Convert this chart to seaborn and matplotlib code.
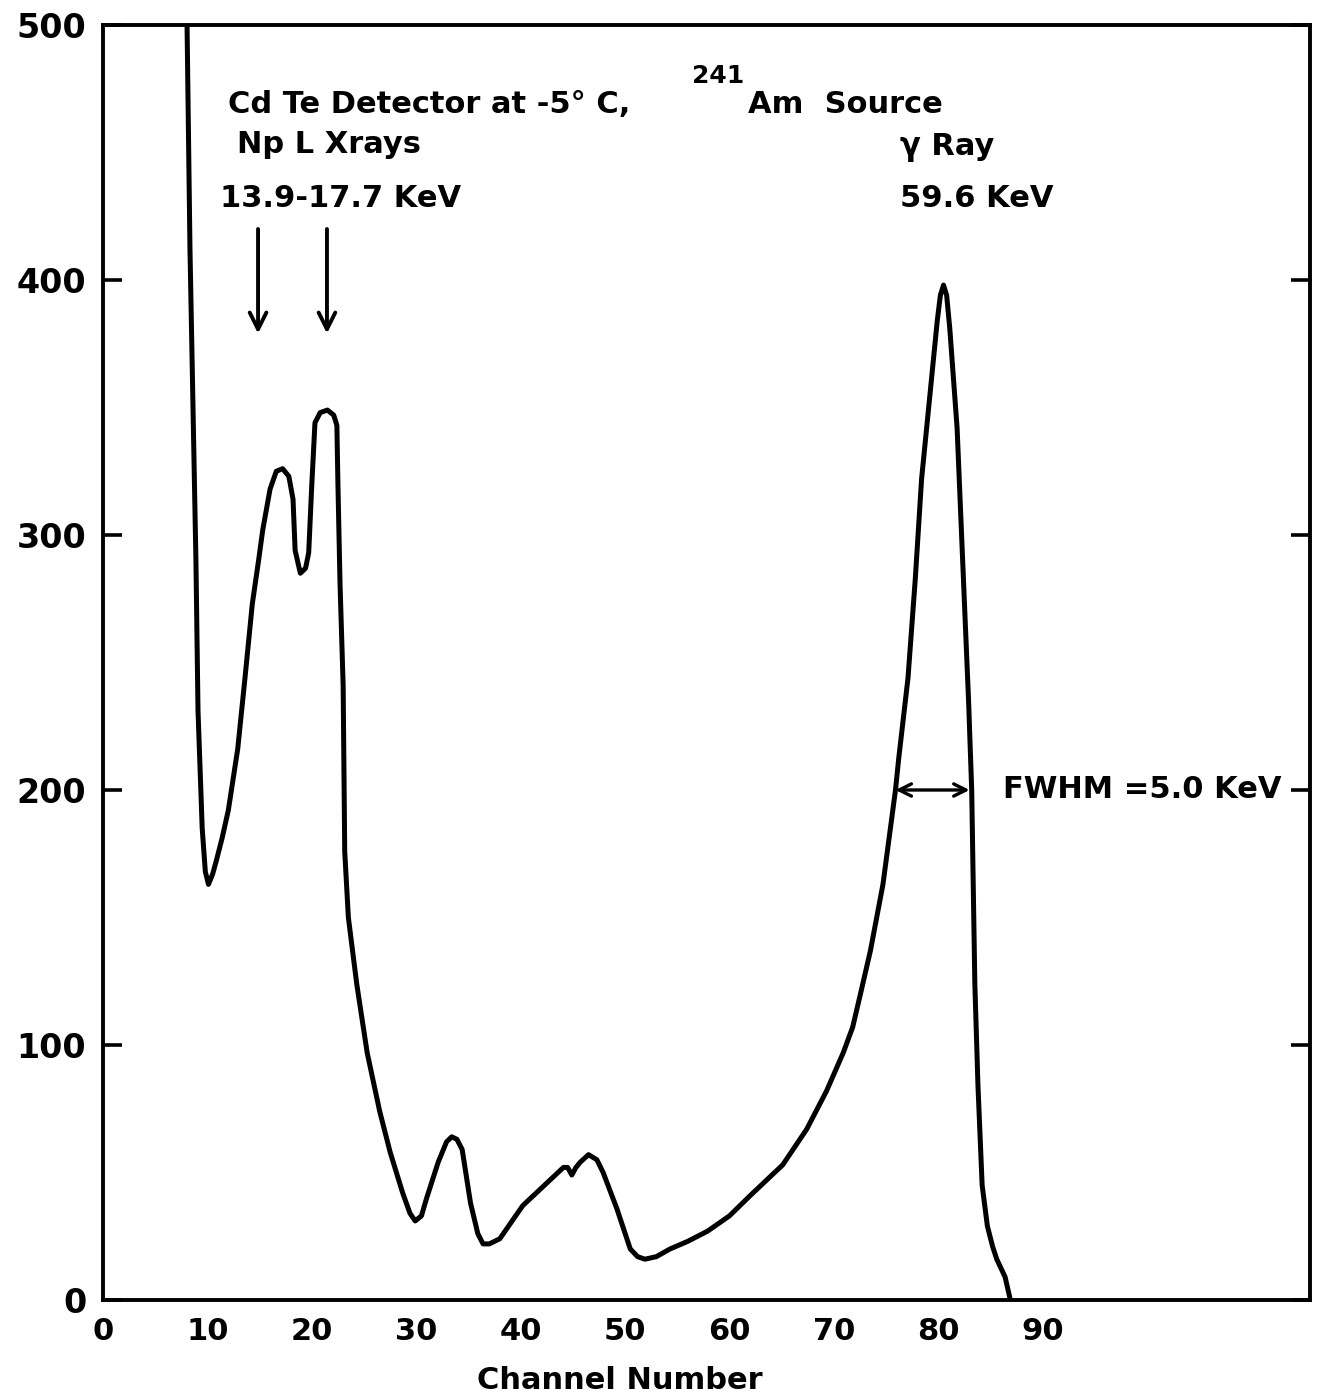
import matplotlib
matplotlib.use("Agg")
import matplotlib.pyplot as plt
import seaborn as sns
import pandas as pd

# ---- data ----
channel = [7.9, 8.05, 8.33, 8.9, 9.1, 9.5, 9.8, 10.1, 10.5, 10.9, 11.4, 12.0, 12.9, 13.6, 14.3, 14.9,
           15.3, 16.0, 16.6, 17.2, 17.8, 18.2, 18.4, 18.9, 19.4, 19.7, 20.0, 20.3, 20.8,
           21.5, 22.1, 22.4, 22.5, 22.7, 23.0, 23.15, 23.5, 24.3, 25.3, 26.5, 27.5, 28.7,
           29.4, 29.9, 30.5, 31.0, 32.1, 32.9, 33.4, 33.9, 34.4, 35.2, 35.9, 36.4, 37.0,
           38.0, 40.2, 42.8, 44.1, 44.5, 44.9, 45.3, 45.7, 46.5, 47.3, 47.9, 49.2, 50.5,
           51.2, 51.9, 53.0, 54.3, 56.0, 57.9, 60.0, 62.0, 65.1, 67.4, 69.3, 70.9, 71.8, 72.6,
           73.5, 74.7, 75.9, 76.2, 77.1, 77.8, 78.4, 79.2, 79.9, 80.2, 80.5, 80.8, 81.1,
           81.8, 82.2, 82.6, 82.9, 83.2, 83.5, 83.8, 84.2, 84.7, 85.2, 85.6, 86.4, 86.9]
counts = [540, 500, 412, 290, 231, 185, 168, 163, 167, 173, 181, 192, 216, 244, 273, 290,
          302, 318, 325, 326, 323, 314, 294, 285, 287, 293, 320, 344, 348,
          349, 347, 343, 320, 281, 241, 176, 150, 124, 97, 74, 58, 42,
          34, 31, 33, 40, 54, 62, 64, 63, 59, 38, 26, 22, 22,
          24, 37, 47, 52, 52, 49, 52, 54, 57, 55, 50, 36, 20,
          17, 16, 17, 20, 23, 27, 33, 41, 53, 67, 82, 97, 107, 121,
          137, 163, 200, 212, 244, 283, 322, 355, 384, 394, 398, 394, 381,
          342, 303, 264, 235, 200, 124, 84, 45, 29, 21, 16, 9, 0]
assert len(channel) == len(counts)

x_ticks = [0, 10, 20, 30, 40, 50, 60, 70, 80, 90]
y_ticks = [0, 100, 200, 300, 400, 500]
xray_arrows = [14.85, 21.45]
fwhm_span = [75.9, 83.0]
fwhm_level = 200

df = pd.DataFrame({"Channel": channel, "Counts": counts})

sns.set_style("white")
plt.rcParams["font.family"] = ["DejaVu Sans"]
plt.rcParams["font.weight"] = "bold"
for k in ("text.color", "axes.labelcolor", "xtick.color", "ytick.color"):
    plt.rcParams[k] = "black"

W, H = 1325, 1399
fig = plt.figure(figsize=(W / 100, H / 100), dpi=100)
ax = fig.add_axes([103 / W, 1 - 1300 / H, (1310 - 103) / W, (1300 - 25) / H])

sns.lineplot(data=df, x="Channel", y="Counts", sort=False, estimator=None,
             color="black", linewidth=3.6, ax=ax)
for l in ax.lines:
    l.set_solid_joinstyle("round")
    l.set_solid_capstyle("round")

ax.set_xlim(0, 115.6)
ax.set_ylim(0, 500)
for s in ax.spines.values():
    s.set_linewidth(2.8)
    s.set_color("black")
    s.set_visible(True)

ax.set_xticks(x_ticks)
ax.set_xticklabels([str(v) for v in x_ticks])
ax.set_yticks(y_ticks)
ax.set_yticklabels([str(v) for v in y_ticks])
ax.tick_params(axis="x", direction="in", length=14, width=2.6, labelsize=22, pad=12,
               colors="black")
ax.tick_params(axis="y", direction="in", length=14, width=2.6, labelsize=24, pad=12,
               right=True, left=True, colors="black")

ax.set_xlabel("Channel Number", fontsize=22, fontweight="bold", color="black")
ax.set_ylabel("")
ax.xaxis.set_label_coords((620 - 103) / 1207, -0.052)

tkw = dict(fontsize=22, fontweight="bold", va="center", ha="left", color="black")
ax.text(12.0, 469, "Cd Te Detector at -5° C,", **tkw)
ax.text(56.4, 480, "241", fontsize=18, fontweight="bold", va="center", ha="left", color="black")
ax.text(61.8, 469, "Am  Source", **tkw)
ax.text(12.8, 453, "Np L Xrays", **tkw)
ax.text(11.2, 432, "13.9-17.7 KeV", **tkw)
ax.text(76.3, 452, "γ Ray", **tkw)
ax.text(76.3, 432, "59.6 KeV", **tkw)
ax.text(86.2, 200, "FWHM =5.0 KeV", **tkw)

for xa in xray_arrows:
    ax.annotate("", xy=(xa, 379), xytext=(xa, 420),
                arrowprops=dict(arrowstyle="->", lw=2.8, color="black",
                                mutation_scale=30, shrinkA=0, shrinkB=0))
ax.annotate("", xy=(fwhm_span[1], fwhm_level), xytext=(fwhm_span[0], fwhm_level),
            arrowprops=dict(arrowstyle="<->", lw=2.4, color="black",
                            mutation_scale=22, shrinkA=0, shrinkB=0))

fig.savefig("out.png", dpi=100, facecolor="white")
